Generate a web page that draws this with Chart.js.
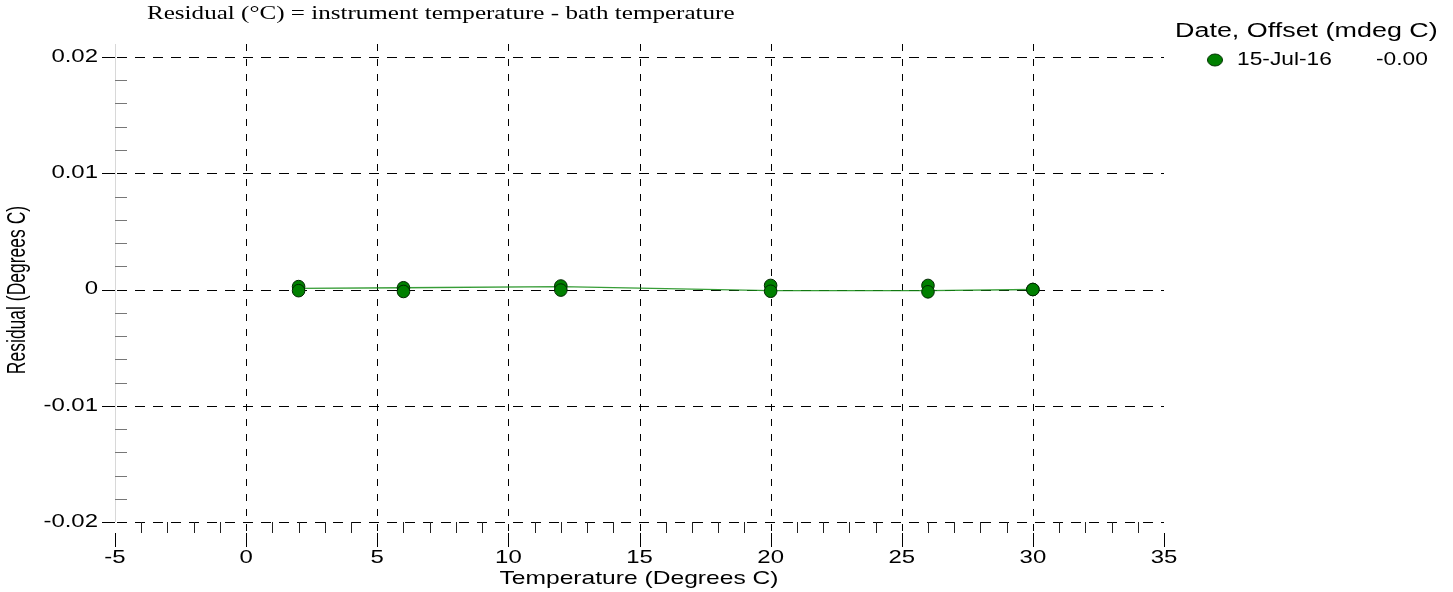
<!DOCTYPE html>
<html><head><meta charset="utf-8">
<script src="https://cdn.jsdelivr.net/npm/chart.js@4.4.1/dist/chart.umd.min.js"></script>
<style>html,body{margin:0;padding:0;background:#fff;overflow:hidden}#wrap{width:1453px;height:592px;position:relative}</style>
</head><body><div id="wrap"><canvas id="c" width="1453" height="592"></canvas></div>
<script>
// ---- data ----
const temperatures = [2, 6, 12, 20, 26, 30];
const residualsHigh = [0.00025, 0.00015, 0.0003, 0.00035, 0.00035, 0];
const residualsLow = [-0.0001, -0.00017, -0.00005, -0.00015, -0.0002, 0];
const fitLine = [0.0001, 0.00015, 0.00025, -0.0001, -0.0001, 0];
const xTicks = [-5, 0, 5, 10, 15, 20, 25, 30, 35];
const yTicks = [-0.02, -0.01, 0, 0.01, 0.02];
const chartTitle = 'Residual (\u00B0C) = instrument temperature - bath temperature';
const xTitle = 'Temperature (Degrees C)';
const yTitle = 'Residual (Degrees C)';
const legendTitle = 'Date, Offset (mdeg C)';
const seriesName = '15-Jul-16';
const seriesOffset = '-0.00';

const SANS = '"Liberation Sans", Arial, sans-serif';
const SERIF = '"Liberation Serif", "Times New Roman", serif';

function sText(ctx, text, x, y, align, font, sx, rot) {
  ctx.save();
  ctx.font = font;
  ctx.fillStyle = '#000';
  ctx.translate(x, y);
  ctx.scale(sx, 1);
  if (rot) ctx.rotate(rot);
  ctx.textAlign = align;
  ctx.textBaseline = 'middle';
  ctx.fillText(text, 0, 0);
  ctx.restore();
}

const decor = {
  id: 'decor',
  beforeDatasetsDraw(chart) {
    const ctx = chart.ctx, xs = chart.scales.x, ys = chart.scales.y;
    const top = 44, bottom = ys.getPixelForValue(-0.02), left = xs.getPixelForValue(-5), right = xs.getPixelForValue(35);
    ctx.save();
    ctx.lineWidth = 1;
    // faint left axis
    ctx.strokeStyle = '#d8d8d8';
    ctx.beginPath(); ctx.moveTo(Math.round(left) + 0.5, top); ctx.lineTo(Math.round(left) + 0.5, bottom); ctx.stroke();
    // vertical dashed grid
    ctx.strokeStyle = '#000';
    ctx.setLineDash([7, 8]);
    xTicks.forEach(v => {
      if (v === -5 || v === 35) return;
      const px = Math.round(xs.getPixelForValue(v)) + 0.5;
      ctx.beginPath(); ctx.moveTo(px, top); ctx.lineTo(px, bottom + 11); ctx.stroke();
    });
    // horizontal dashed grid
    ctx.setLineDash([10, 8]);
    yTicks.forEach(v => {
      const py = Math.round(ys.getPixelForValue(v)) + 0.5;
      ctx.beginPath(); ctx.moveTo(left + 2, py); ctx.lineTo(right, py); ctx.stroke();
    });
    ctx.setLineDash([]);
    // y major ticks
    yTicks.forEach(v => {
      const py = Math.round(ys.getPixelForValue(v)) + 0.5;
      ctx.beginPath(); ctx.moveTo(left - 13, py); ctx.lineTo(left, py); ctx.stroke();
    });
    // y minor ticks
    ctx.strokeStyle = '#777';
    for (let k = -20; k <= 20; k += 2) {
      if (k % 10 === 0) continue;
      const py = Math.round(ys.getPixelForValue(k / 1000)) + 0.5;
      ctx.beginPath(); ctx.moveTo(left, py); ctx.lineTo(left + 12, py); ctx.stroke();
    }
    // x minor ticks
    ctx.strokeStyle = '#222';
    for (let k = -4; k <= 34; k++) {
      if (k % 5 === 0) continue;
      const px = Math.round(xs.getPixelForValue(k)) + 0.5;
      ctx.beginPath(); ctx.moveTo(px, bottom); ctx.lineTo(px, bottom + 11); ctx.stroke();
    }
    // x major ticks
    ctx.strokeStyle = '#000';
    xTicks.forEach(v => {
      const px = Math.round(xs.getPixelForValue(v)) + 0.5;
      ctx.beginPath(); ctx.moveTo(px, bottom + 11); ctx.lineTo(px, bottom + 25); ctx.stroke();
    });
    ctx.restore();
  },
  afterDraw(chart) {
    const ctx = chart.ctx, xs = chart.scales.x, ys = chart.scales.y;
    const sx = 1.33;
    // tick labels
    yTicks.forEach(v => {
      const lbl = v === 0 ? '0' : v.toFixed(2);
      sText(ctx, lbl, 98, ys.getPixelForValue(v), 'right', '18px ' + SANS, sx);
    });
    xTicks.forEach(v => {
      sText(ctx, String(v), xs.getPixelForValue(v), 558, 'center', '18px ' + SANS, sx);
    });
    // titles
    sText(ctx, chartTitle, 147, 14, 'left', '19px ' + SERIF, 1.32);
    sText(ctx, xTitle, 639, 579, 'center', '18.5px ' + SANS, sx);
    sText(ctx, yTitle, 18, 290, 'center', '17.5px ' + SANS, 1.45, -Math.PI / 2);
    // legend
    sText(ctx, legendTitle, 1175, 32, 'left', '19.5px ' + SANS, 1.38);
    ctx.save();
    ctx.fillStyle = '#008000'; ctx.strokeStyle = '#003000'; ctx.lineWidth = 1;
    ctx.beginPath(); ctx.ellipse(1215, 60, 7.5, 6, 0, 0, Math.PI * 2); ctx.fill(); ctx.stroke();
    ctx.restore();
    sText(ctx, seriesName, 1237, 60, 'left', '17.5px ' + SANS, 1.3);
    sText(ctx, seriesOffset, 1376, 60, 'left', '17.5px ' + SANS, 1.3);
  }
};

const pointData = temperatures.map((t, i) => ({ x: t, y: residualsHigh[i] }))
  .concat(temperatures.map((t, i) => ({ x: t, y: residualsLow[i] })));
const lineData = temperatures.map((t, i) => ({ x: t, y: fitLine[i] }));

new Chart(document.getElementById('c'), {
  type: 'scatter',
  data: {
    datasets: [
      {
        label: seriesName,
        data: pointData,
        backgroundColor: '#008000',
        borderColor: '#002800',
        borderWidth: 1,
        pointRadius: 6.3,
        pointHoverRadius: 6.3,
        order: 0
      },
      {
        type: 'line',
        label: 'fit',
        data: lineData,
        borderColor: 'rgba(20,140,20,0.85)',
        borderWidth: 1.3,
        pointRadius: 0,
        fill: false,
        tension: 0,
        order: 1
      }
    ]
  },
  options: {
    responsive: false,
    animation: false,
    devicePixelRatio: 1,
    layout: { padding: { top: 57, right: 289, left: 0, bottom: 0 } },
    plugins: { legend: { display: false }, tooltip: { enabled: false }, title: { display: false } },
    scales: {
      x: {
        type: 'linear', min: -5, max: 35,
        ticks: { display: false, stepSize: 5 },
        grid: { display: false, drawTicks: false },
        border: { display: false },
        afterFit: s => { s.height = 70; }
      },
      y: {
        type: 'linear', min: -0.02, max: 0.02,
        ticks: { display: false, stepSize: 0.01 },
        grid: { display: false, drawTicks: false },
        border: { display: false },
        afterFit: s => { s.width = 115; }
      }
    }
  },
  plugins: [decor]
});
</script>
</body></html>
